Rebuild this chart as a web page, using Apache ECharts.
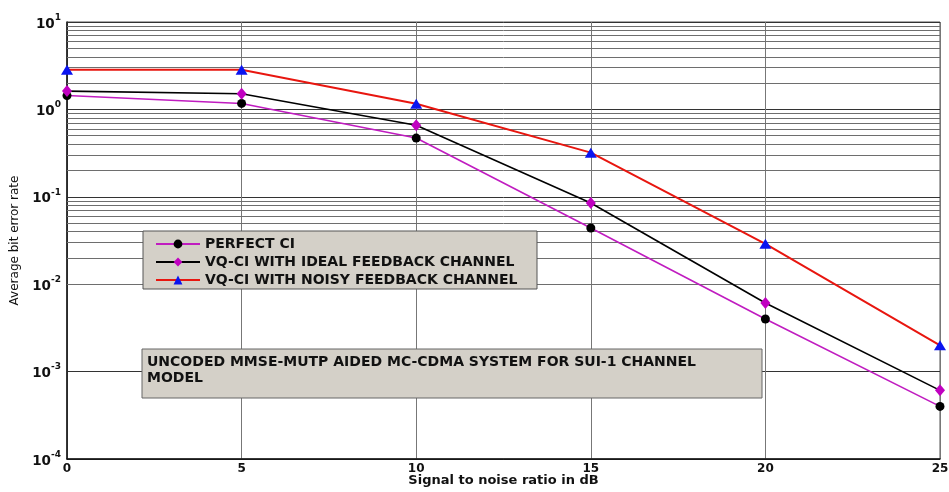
<!DOCTYPE html>
<html>
<head>
<meta charset="utf-8">
<script src="https://cdn.jsdelivr.net/npm/echarts@6/dist/echarts.min.js"></script>
<style>
  html, body { margin: 0; padding: 0; background: #ffffff; }
  #chart { width: 949px; height: 492px; }
</style>
</head>
<body>
<div id="chart"></div>
<script>
// SNR sweep (dB)
const snr = [0, 5, 10, 15, 20, 25];

// Average bit error rate per scheme
const perfectCI = [1.44, 1.17, 0.47, 0.044, 0.0040, 0.00040];
const vqIdeal   = [1.62, 1.51, 0.66, 0.085, 0.0061, 0.00061];
const vqNoisy   = [2.84, 2.84, 1.16, 0.32, 0.029, 0.0020];

const seriesNames = [
  'PERFECT CI',
  'VQ-CI WITH IDEAL FEEDBACK CHANNEL',
  'VQ-CI WITH NOISY FEEDBACK CHANNEL'
];
const noteText = 'UNCODED MMSE-MUTP AIDED MC-CDMA SYSTEM FOR SUI-1 CHANNEL\nMODEL';
const xTitle = 'Signal to noise ratio in dB';
const yTitle = 'Average bit error rate';

// y range in decades
const yMinExp = -4, yMaxExp = 1;

const FONT = 'DejaVu Sans';

// minor log grid: 2..9 x 10^e in each decade
const minorLines = [];
for (let e = yMinExp; e < yMaxExp; e++) {
  for (let k = 2; k <= 9; k++) minorLines.push({ yAxis: k * Math.pow(10, e) });
}

function pairs(ys) { return snr.map((x, i) => [x, ys[i]]); }

const chart = echarts.init(document.getElementById('chart'), null, { renderer: 'canvas' });

chart.setOption({
  animation: false,
  backgroundColor: '#ffffff',
  grid: {
    left: 67, right: 9, top: 22, bottom: 33,
    outerBoundsMode: 'none', containLabel: false,
    show: true, borderColor: '#555', borderWidth: 1
  },
  xAxis: {
    type: 'value', min: 0, max: 25, interval: 5,
    name: xTitle, nameLocation: 'middle', nameGap: 15, nameMoveOverlap: false,
    nameTextStyle: { fontFamily: FONT, fontWeight: 'bold', fontSize: 13, color: '#111' },
    axisLine: { lineStyle: { color: '#111', width: 1.5 } },
    axisTick: { show: false },
    axisLabel: { fontFamily: FONT, fontWeight: 'bold', fontSize: 12, color: '#111', margin: 4 },
    splitLine: { show: true, lineStyle: { color: '#777', width: 1 } }
  },
  yAxis: {
    type: 'log', logBase: 10,
    min: Math.pow(10, yMinExp), max: Math.pow(10, yMaxExp),
    name: yTitle, nameLocation: 'middle', nameGap: 46, nameMoveOverlap: false,
    nameTextStyle: { fontFamily: FONT, fontSize: 12, color: '#111' },
    axisLine: { lineStyle: { color: '#111', width: 1.5 } },
    axisTick: { show: false },
    axisLabel: {
      margin: 6,
      formatter: function (v) {
        const e = Math.round(Math.log10(v));
        return '{b|10}{s|' + e + '}';
      },
      rich: {
        b: { fontFamily: FONT, fontWeight: 'bold', fontSize: 13.5, color: '#111', verticalAlign: 'bottom', lineHeight: 18 },
        s: { fontFamily: FONT, fontWeight: 'bold', fontSize: 9, color: '#111', verticalAlign: 'top', lineHeight: 18 }
      }
    },
    splitLine: { show: true, lineStyle: { color: '#333', width: 1 } }
  },
  legend: {
    orient: 'vertical',
    left: 150, top: 231,
    itemWidth: 44, itemHeight: 11, itemGap: 2,
    z: 20,
    textStyle: { fontFamily: FONT, fontWeight: 'bold', fontSize: 14, lineHeight: 16, color: '#111' },
    data: seriesNames
  },
  graphic: {
    elements: [
      {
        type: 'rect', z: 10,
        shape: { x: 143, y: 231, width: 394, height: 58 },
        style: { fill: '#d4d0c8', stroke: '#555', lineWidth: 1 }
      },
      {
        type: 'rect', z: 10,
        shape: { x: 142, y: 349, width: 620, height: 49 },
        style: { fill: '#d4d0c8', stroke: '#666', lineWidth: 1 }
      },
      {
        type: 'text', z: 11, x: 147, y: 354,
        style: {
          text: noteText, fill: '#111',
          font: 'bold 14px "DejaVu Sans"', lineHeight: 16
        }
      }
    ]
  },
  series: [
    {
      name: '__minorGrid', type: 'line', data: [], silent: true, z: 1,
      markLine: {
        silent: true, symbol: 'none', label: { show: false },
        lineStyle: { color: '#6e6e6e', width: 1, type: 'solid' },
        data: minorLines, animation: false
      }
    },
    {
      name: seriesNames[0], type: 'line', data: pairs(perfectCI), z: 5, clip: false,
      symbol: 'circle', symbolSize: 9,
      lineStyle: { color: '#c01cc0', width: 1.6 },
      itemStyle: { color: '#000000' }
    },
    {
      name: seriesNames[1], type: 'line', data: pairs(vqIdeal), z: 5, clip: false,
      symbol: 'diamond', symbolSize: [10, 12],
      lineStyle: { color: '#000000', width: 1.6 },
      itemStyle: { color: '#c000c0' }
    },
    {
      name: seriesNames[2], type: 'line', data: pairs(vqNoisy), z: 5, clip: false,
      symbol: 'triangle', symbolSize: [12, 10],
      lineStyle: { color: '#e8160f', width: 2 },
      itemStyle: { color: '#0a14f0' }
    }
  ]
});
</script>
</body>
</html>
